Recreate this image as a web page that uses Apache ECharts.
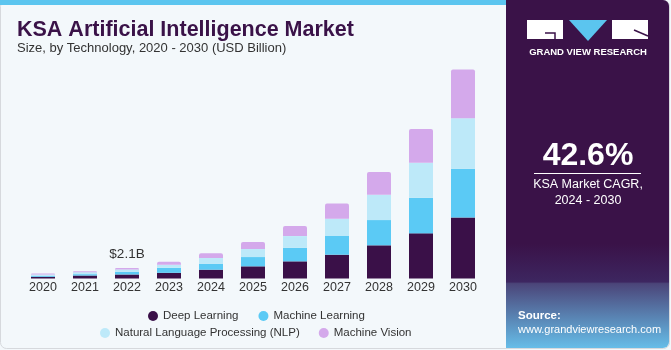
<!DOCTYPE html>
<html><head><meta charset="utf-8">
<script src="https://cdn.jsdelivr.net/npm/echarts@6/dist/echarts.min.js"></script>
<style>html,body{margin:0;padding:0;background:#f3f8fb;}#c{width:671px;height:350px;}</style>
</head><body><div id="c"></div>
<script>
const years = ['2020','2021','2022','2023','2024','2025','2026','2027','2028','2029','2030'];
const deepLearning    = [0.34, 0.60, 0.81, 1.15, 1.78, 2.46, 3.47, 4.81, 6.71, 9.13, 12.36];
const machineLearning = [0.20, 0.28, 0.55, 1.00, 1.21, 1.88, 2.75, 3.78, 5.11, 7.19, 9.82];
const nlp             = [0.26, 0.40, 0.46, 0.61, 1.15, 1.62, 2.36, 3.49, 5.11, 7.07, 10.24];
const machineVision   = [0.20, 0.20, 0.28, 0.61, 0.95, 1.41, 2.02, 3.11, 4.59, 6.87, 9.84];
const annotation = {index: 2, text: '$2.1B'};

const FONT = 'Liberation Sans, Arial, sans-serif';
const chart = echarts.init(document.getElementById('c'), null, {renderer:'canvas'});

function mk(name, data, color, top) {
  return {
    name, type:'bar', stack:'t', barWidth:24, data: data.map((v,i)=>{
      if (top && i===annotation.index) return {value:v, label:{show:true, position:'top', distance:7, formatter:annotation.text, color:'#333', fontSize:13.5, fontFamily:FONT}};
      return v;
    }),
    itemStyle:{color, borderRadius: top?[2,2,0,0]:0},
    emphasis:{disabled:true}
  };
}

chart.setOption({
  animation:false,
  backgroundColor:'#f3f8fb',
  grid:{left:22, right:187, top:56, bottom:71.5},
  xAxis:{type:'category', data:years, axisLine:{show:false}, axisTick:{show:false},
    axisLabel:{color:'#333', fontSize:12.5, fontFamily:FONT, margin:3}},
  yAxis:{type:'value', min:0, max:45, show:false, splitLine:{show:false}},
  legend:[
    {data:['Deep Learning','Machine Learning'], left:143, top:305, icon:'circle', itemWidth:10, itemHeight:10, itemGap:20,
      textStyle:{color:'#333', fontSize:11.5, fontFamily:FONT}},
    {data:['Natural Language Processing (NLP)','Machine Vision'], left:95, top:322, icon:'circle', itemWidth:10, itemHeight:10, itemGap:19,
      textStyle:{color:'#333', fontSize:11.5, fontFamily:FONT}}
  ],
  series:[
    mk('Deep Learning', deepLearning, '#3a1048'),
    mk('Machine Learning', machineLearning, '#5bcaf5'),
    mk('Natural Language Processing (NLP)', nlp, '#bde9f9'),
    mk('Machine Vision', machineVision, '#d4a9eb', true)
  ],
  graphic:[
    {type:'rect', shape:{x:0.5,y:0.5,width:669,height:348,r:6}, style:{fill:null, stroke:'#d6d9dd', lineWidth:1}, z:1},
    {type:'rect', shape:{x:0,y:0,width:506,height:5}, style:{fill:'#5bc5ef'}, z:10},
    {type:'text', left:17, top:19, style:{text:'KSA Artificial Intelligence Market', fill:'#3a1248', font:'bold 21.5px '+FONT}, z:10},
    {type:'text', left:17, top:42, style:{text:'Size, by Technology, 2020 - 2030 (USD Billion)', fill:'#333', font:'13px '+FONT}, z:10},
    {type:'rect', shape:{x:506,y:0,width:163,height:348,r:[0,6,6,0]}, style:{fill:{type:'linear',x:0,y:0,x2:0,y2:1,colorStops:[
      {offset:0,color:'#3a1248'},{offset:0.7,color:'#3a1248'},{offset:0.81,color:'#3d2660'},{offset:0.815,color:'#4b4579'},{offset:1,color:'#66bde8'}]}}, z:5},
    {type:'rect', shape:{x:527,y:20,width:36,height:19}, style:{fill:'#ffffff'}, z:10},
    {type:'polyline', shape:{points:[[545,33],[555,33],[555,39]]}, style:{stroke:'#3a1248', lineWidth:1.5, fill:null}, z:11},
    {type:'polygon', shape:{points:[[569,20],[607,20],[588,41]]}, style:{fill:'#5bc5ef'}, z:10},
    {type:'rect', shape:{x:612,y:20,width:36,height:19}, style:{fill:'#ffffff'}, z:10},
    {type:'line', shape:{x1:634,y1:30,x2:648,y2:36}, style:{stroke:'#3a1248', lineWidth:1.5}, z:11},
    {type:'text', x:588, y:52.7, style:{text:'GRAND VIEW RESEARCH', fill:'#ffffff', font:'bold 9.5px '+FONT, textAlign:'center', textVerticalAlign:'middle'}, z:10},
    {type:'text', x:588, y:156, style:{text:'42.6%', fill:'#ffffff', font:'bold 32px '+FONT, textAlign:'center', textVerticalAlign:'middle'}, z:10},
    {type:'line', shape:{x1:534,y1:173.5,x2:641,y2:173.5}, style:{stroke:'#ffffff', lineWidth:1}, z:10},
    {type:'text', x:588, y:185, style:{text:'KSA Market CAGR,', fill:'#ffffff', font:'12.5px '+FONT, textAlign:'center', textVerticalAlign:'middle'}, z:10},
    {type:'text', x:588, y:201, style:{text:'2024 - 2030', fill:'#ffffff', font:'12.5px '+FONT, textAlign:'center', textVerticalAlign:'middle'}, z:10},
    {type:'text', x:518, y:316, style:{text:'Source:', fill:'#ffffff', font:'bold 11.5px '+FONT, textVerticalAlign:'middle'}, z:10},
    {type:'text', x:518, y:329.5, style:{text:'www.grandviewresearch.com', fill:'#ffffff', font:'11px '+FONT, textVerticalAlign:'middle'}, z:10}
  ]
});
</script></body></html>
